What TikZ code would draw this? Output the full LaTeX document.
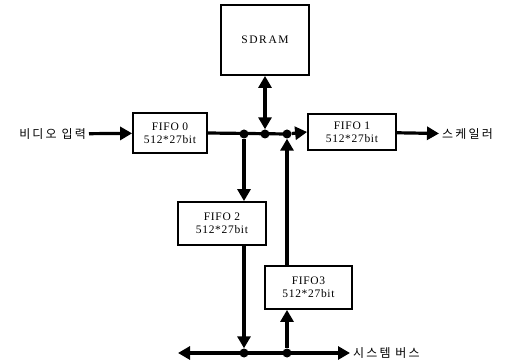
\documentclass[tikz,border=0pt]{standalone}
\usepackage{fontspec}
\setmainfont{Liberation Serif}
\newfontfamily\kor[LetterSpace=18]{Noto Sans CJK KR}
\usepackage{tikz}
\usetikzlibrary{arrows.meta}

\begin{document}
\begin{tikzpicture}[
		x=1pt,y=-1pt,
		bus/.style={line width=3.2pt,-{Triangle[length=12pt,width=13pt]}},
		nobus/.style={line width=3.2pt},
		dbus/.style={line width=3.2pt,{Triangle[length=12pt,width=13pt]}-{Triangle[length=12pt,width=13pt]}},
		fifo/.style={draw,line width=1.8pt,minimum width=88,minimum height=42,align=center,inner sep=0pt,font=\addfontfeatures{LetterSpace=6}\fontsize{11.5}{13}\selectfont},
		dot/.style={circle,fill,inner sep=0pt,minimum size=9},
		label/.style={font=\kor\fontsize{12}{14}\selectfont,inner sep=3pt}]
		\useasboundingbox (0,0) rectangle (511,363);

		\node[fifo,minimum height=70] (sdram) at (265,40) {\addfontfeatures{LetterSpace=14}SDRAM};
		\node[fifo,minimum width=74,minimum height=40] (fifo0) at (170,133) {FIFO 0\\512*27bit};
		\node[fifo,minimum height=36] (fifo1) at (352,132) {FIFO 1\\512*27bit};
		\node[fifo,minimum height=43] (fifo2) at (222,223.5) {FIFO 2\\512*27bit};
		\node[fifo,minimum width=87,minimum height=43] (fifo3) at (308.5,287.5) {FIFO3\\512*27bit};

		\node[label,anchor=east] (vin) at (89,134) {비디오 입력};
		\node[label,anchor=west] (scaler) at (439,134) {스케일러};
		\node[label,anchor=west] (sysbus) at (350,353) {시스템 버스};

		% junctions on the buses
		\node[dot] (j1) at (244,134) {};
		\node[dot] (j2) at (265,134) {};
		\node[dot] (j3) at (287,134) {};
		\node[dot] (b1) at (244,353) {};
		\node[dot] (b2) at (287,353) {};
		\coordinate (busl) at (178,353);

		\draw[bus] (vin) -- (fifo0);
		\draw[nobus] (fifo0.east) -- (j3.center);
		\draw[bus] (j3) -- (fifo1.west);
		\draw[bus] (fifo1) -- (scaler);
		\draw[dbus] (j2) -- (sdram);
		\draw[bus] (j1) -- (j1 |- fifo2.north);
		\draw[bus] (fifo2.south -| b1) -- (b1);
		\draw[bus] (fifo3.north -| j3) -- (j3);
		\draw[bus] (b2) -- (b2 |- fifo3.south);
		\draw[dbus] (busl) -- (sysbus.west);
\end{tikzpicture}
\end{document}
